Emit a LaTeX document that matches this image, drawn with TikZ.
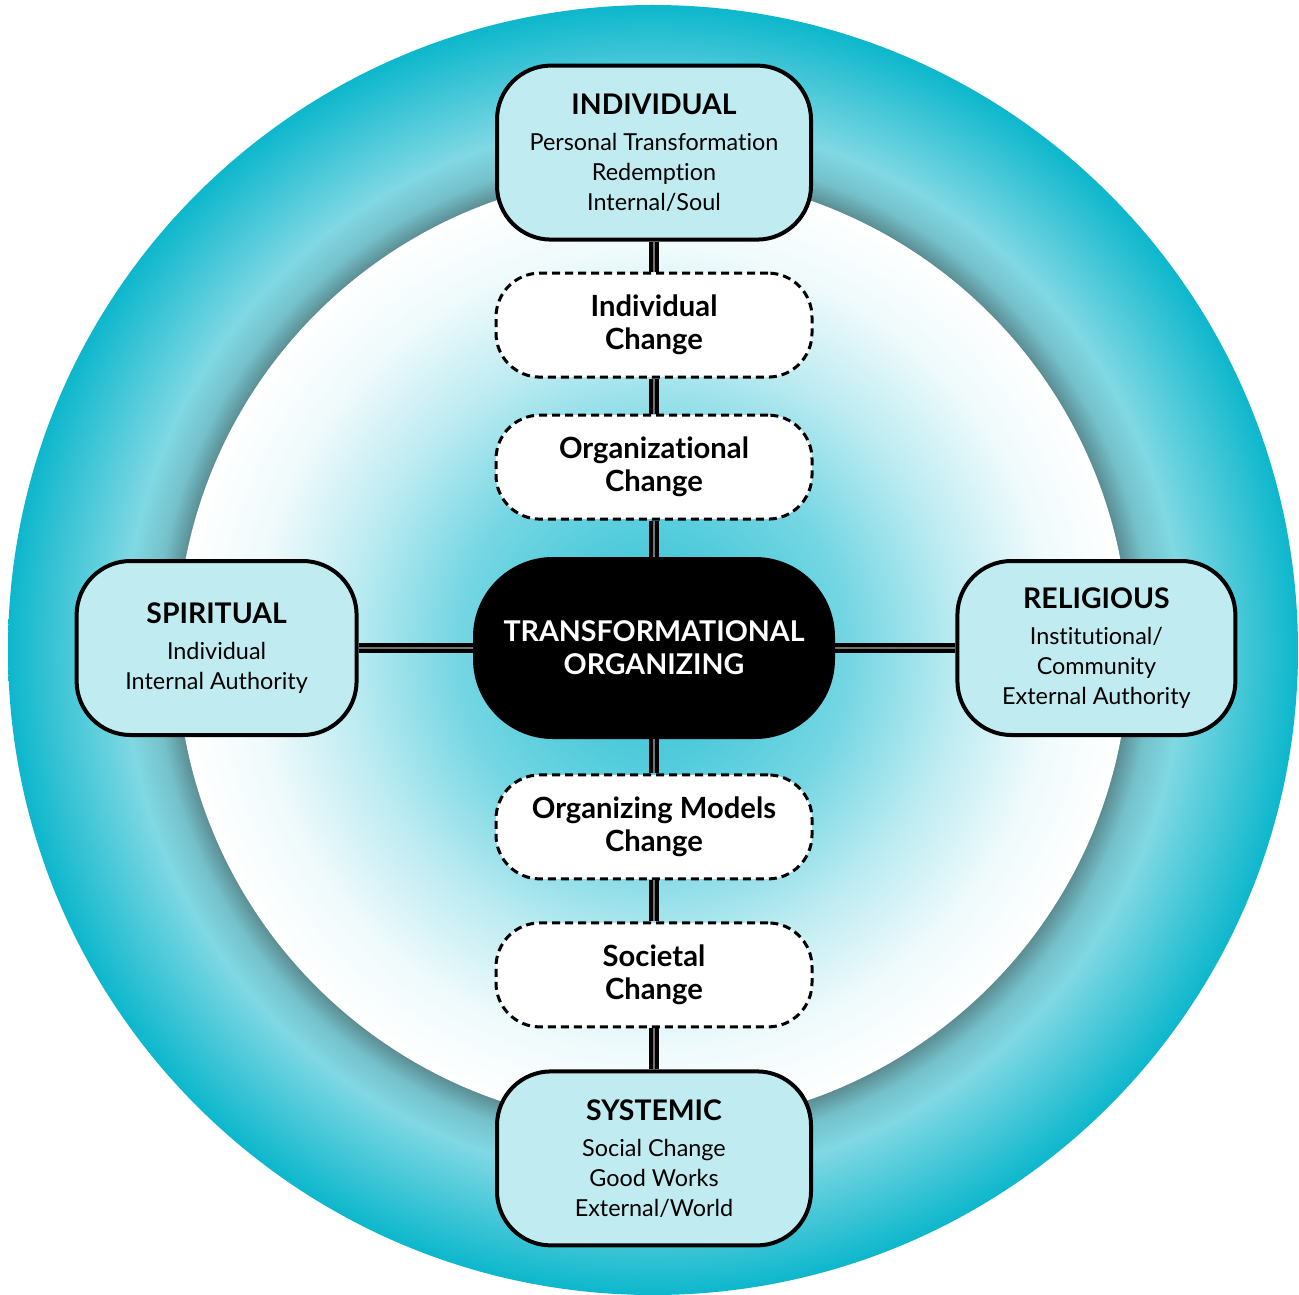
\documentclass[tikz,border=0pt]{standalone}
\usepackage{fontspec}
\setmainfont{Lato}[Ligatures={NoCommon}]
\usetikzlibrary{positioning,shapes}
\definecolor{ringteal}{HTML}{0DB7CC}
\definecolor{ringlight}{HTML}{80D8E3}
\definecolor{ringshade}{HTML}{5A8A90}
\definecolor{boxfill}{HTML}{C0ECF1}
\definecolor{coreteal}{HTML}{3CC5D7}
\pgfdeclareradialshading{ringshading}{\pgfpoint{0bp}{0bp}}{%
  color(0bp)=(ringshade); color(18.4bp)=(ringshade);
  color(19.3bp)=(ringlight!70!ringshade); color(20.5bp)=(ringlight);
  color(25bp)=(ringteal); color(50bp)=(ringteal)}
\pgfdeclareradialshading{coreshading}{\pgfpoint{0bp}{0bp}}{%
  color(0bp)=(coreteal); color(5bp)=(coreteal!92!white);
  color(10.5bp)=(coreteal!70!white); color(15.8bp)=(coreteal!35!white);
  color(21bp)=(coreteal!8!white); color(25bp)=(white); color(50bp)=(white)}
\tikzstyle{mainbox}=[rectangle, draw, line width=2pt, fill=boxfill,
		rounded corners=27pt, minimum width=157pt, minimum height=87pt,
		align=center, font=\fontsize{11.7}{15}\selectfont]
\tikzstyle{changebox}=[rectangle, draw, line width=1.5pt, dash pattern=on 4pt off 2.5pt,
		fill=white, rounded corners=22pt, minimum width=158pt, minimum height=52pt,
		align=center, font=\fontsize{14.6}{16.5}\selectfont\bfseries]
\tikzstyle{corebox}=[rectangle, fill=black, text=white, rounded corners=40pt,
		minimum width=181pt, minimum height=91pt,
		align=center, font=\fontsize{14.3}{16.5}\selectfont\bfseries]
\tikzstyle{link}=[line width=2.2pt, double=black!55, double distance=0.6pt]
\newcommand{\boxtitle}[1]{{\fontsize{14.2}{15}\selectfont\bfseries #1}}

\begin{document}
\begin{tikzpicture}[x=0.5pt,y=-0.5pt]

    \useasboundingbox[fill=white] (0,0) rectangle (1299,1294);
    \shade[shading=ringshading] (653,650) circle (645);
    \shade[shading=coreshading] (653,650) circle (476);

    \node (Core) [corebox] at (654,648) {TRANSFORMATIONAL\\ORGANIZING};

    \node (OrgChange) [changebox, above=18pt of Core] {Organizational\\Change};
    \node (IndChange) [changebox, above=17.5pt of OrgChange] {Individual\\Change};
    \node (Individual) [mainbox, above=15pt of IndChange] {
      \boxtitle{INDIVIDUAL}\\[3pt]
      Personal Transformation\\
      Redemption\\
      Internal/Soul
    };

    \node (ModelChange) [changebox, below=17pt of Core] {Organizing Models\\Change};
    \node (SocChange) [changebox, below=20.5pt of ModelChange] {Societal\\Change};
    \node (Systemic) [mainbox, below=20.5pt of SocChange] {
      \boxtitle{SYSTEMIC}\\[3pt]
      Social Change\\
      Good Works\\
      External/World
    };

    \node (Spiritual) [mainbox, minimum width=140pt, left=57pt of Core] {
      \boxtitle{SPIRITUAL}\\[3pt]
      Individual\\
      Internal Authority
    };
    \node (Religious) [mainbox, minimum width=139pt, right=60pt of Core] {
      \boxtitle{RELIGIOUS}\\[3pt]
      Institutional/\\
      Community\\
      External Authority
    };

    \draw [link] (Individual) -- (IndChange);
    \draw [link] (IndChange) -- (OrgChange);
    \draw [link] (OrgChange) -- (Core);
    \draw [link] (Core) -- (ModelChange);
    \draw [link] (ModelChange) -- (SocChange);
    \draw [link] (SocChange) -- (Systemic);
    \draw [link] (Spiritual) -- (Core);
    \draw [link] (Core) -- (Religious);

\end{tikzpicture}
\end{document}
